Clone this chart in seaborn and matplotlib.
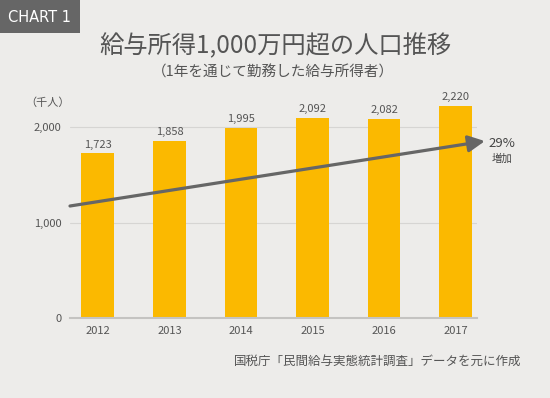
import matplotlib
matplotlib.use("Agg")
import matplotlib.pyplot as plt
import seaborn as sns
import pandas as pd
from matplotlib.patches import FancyArrowPatch, Rectangle

years = ["2012", "2013", "2014", "2015", "2016", "2017"]
values = [1723, 1858, 1995, 2092, 2082, 2220]
value_labels = ["1,723", "1,858", "1,995", "2,092", "2,082", "2,220"]
yticks = [0, 1000, 2000]
ytick_labels = ["0", "1,000", "2,000"]
trend_start = 1173
trend_end = 1853

sns.set_theme(style="white")
plt.rcParams['font.family'] = ['Noto Sans CJK JP', 'DejaVu Sans']

bg = "#edecea"
txt = "#555555"
bar_color = "#fbb900"

fig = plt.figure(figsize=(5.5, 3.98), dpi=100, facecolor=bg)
ax = fig.add_axes([70/550, 1-318/398, (477-70)/550, (318-98.4)/398])
ax.set_facecolor(bg)

df = pd.DataFrame({"year": years, "value": values})
sns.barplot(data=df, x="year", y="value", color=bar_color, width=0.46,
            saturation=1, ax=ax, zorder=3, linewidth=0, edgecolor="none")

for i, (v, lab) in enumerate(zip(values, value_labels)):
    ax.text(i, v + 40, lab, ha="center", va="bottom", fontsize=8, color=txt)

ax.set_xlim(-0.39, 5.3)
ax.set_ylim(0, 2300)
ax.set_yticks(yticks)
ax.set_yticklabels(ytick_labels)
ax.yaxis.grid(True, color="#d6d5d3", linewidth=0.8, zorder=0)
ax.set_axisbelow(True)
for s in ["top", "right", "left"]:
    ax.spines[s].set_visible(False)
ax.spines["bottom"].set_color("#c4c3c1")
ax.spines["bottom"].set_linewidth(1.5)
ax.spines["bottom"].set_zorder(4)
ax.tick_params(axis="both", length=0, labelsize=8, colors=txt)
ax.tick_params(axis="x", pad=6)
ax.tick_params(axis="y", pad=6)
ax.set_xlabel("")
ax.set_ylabel("")

# trend arrow
arrow = FancyArrowPatch((-0.39, trend_start), (5.41, trend_end),
                        arrowstyle="-|>,head_length=10,head_width=5",
                        mutation_scale=1.0, color="#666666", linewidth=2.3,
                        clip_on=False, zorder=5, shrinkA=0, shrinkB=0)
ax.add_patch(arrow)

fig.text(488/550, 1-143/398, "29%", fontsize=9.5, color="#444444", ha="left", va="center")
fig.text(492/550, 1-159/398, "増加", fontsize=7.5, color="#444444", ha="left", va="center")

fig.text(48/550, 1-103/398, "（千人）", fontsize=8, color=txt, ha="center", va="center")

# header
fig.patches.append(Rectangle((0, 1-33/398), 80/550, 33/398, transform=fig.transFigure,
                             facecolor="#666666", edgecolor="none"))
fig.text(40/550, 1-17/398, "CHART 1", fontsize=10.5, color="white", ha="center", va="center",
         family=["DejaVu Sans"])

fig.text(275/550, 1-46/398, "給与所得1,000万円超の人口推移", fontsize=17.5, color="#555555",
         ha="center", va="center")
fig.text(273/550, 1-73/398, "（1年を通じて勤務した給与所得者）", fontsize=10.5, color="#555555",
         ha="center", va="center")

fig.text(521/550, 1-361/398, "国税庁「民間給与実態統計調査」データを元に作成", fontsize=9,
         color=txt, ha="right", va="center")

fig.savefig("out.png", dpi=100, facecolor=bg)
